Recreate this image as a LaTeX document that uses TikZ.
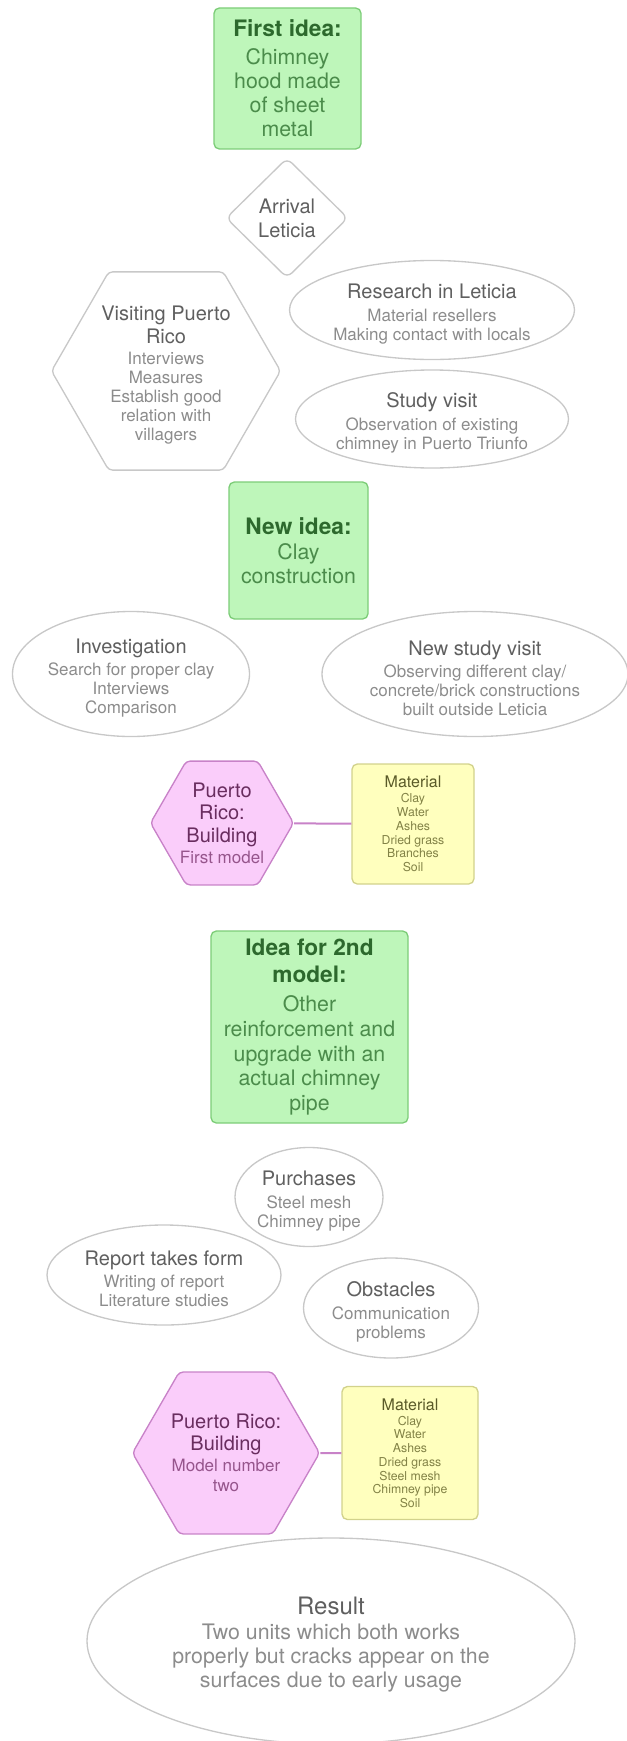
\documentclass[tikz,border=0pt]{standalone}
\usepackage{fontspec}
\setmainfont{TeX Gyre Heros}
\usetikzlibrary{shapes.geometric}

\definecolor{grayedge}{RGB}{200,200,200}
\definecolor{graydark}{RGB}{95,95,95}
\definecolor{graylight}{RGB}{140,140,140}
\definecolor{greenfill}{RGB}{190,246,186}
\definecolor{greenedge}{RGB}{125,205,120}
\definecolor{greendark}{RGB}{45,105,45}
\definecolor{greenlight}{RGB}{75,140,75}
\definecolor{pinkfill}{RGB}{250,205,250}
\definecolor{pinkedge}{RGB}{200,130,200}
\definecolor{pinkdark}{RGB}{105,45,95}
\definecolor{pinklight}{RGB}{150,85,140}
\definecolor{yellowfill}{RGB}{255,255,190}
\definecolor{yellowedge}{RGB}{210,210,140}
\definecolor{olivedark}{RGB}{90,90,40}
\definecolor{olivelight}{RGB}{130,130,70}

\newcommand{\ttlfont}{\fontsize{15}{18}\selectfont}
\newcommand{\subfont}{\fontsize{12.75}{14.2}\selectfont}
\newcommand{\ideafont}{\fontsize{16}{18.2}\selectfont}
\newcommand{\matfont}{\fontsize{9.2}{10.3}\selectfont}
\newcommand{\resfont}{\fontsize{16}{18}\selectfont}

\newcommand{\grayttl}[1]{{\ttlfont\color{graydark}#1}}
\newcommand{\pinkttl}[1]{{\ttlfont\color{pinkdark}#1}}
\newcommand{\ideattl}[1]{{\fontsize{17}{20.25}\selectfont\bfseries\color{greendark}#1}}
\newcommand{\matttl}[1]{{\fontsize{12}{14}\selectfont\color{olivedark}#1}}
\newcommand{\resttl}[1]{{\fontsize{18}{20}\selectfont\color{graydark}#1}}
\newcommand{\lift}[1]{\rule{0pt}{#1}}

\tikzset{every picture/.style={line width=0.75pt}}
\tikzset{
  grayell/.style={ellipse, draw=grayedge, line width=1pt, inner sep=0pt, align=center, text=graylight, font=\subfont},
  grayhex/.style={regular polygon, regular polygon sides=6, draw=grayedge, line width=1pt, rounded corners=3pt, inner sep=-8pt, align=center, text=graylight, font=\subfont},
  idea/.style={rectangle, draw=greenedge, fill=greenfill, line width=1pt, rounded corners=4pt, align=center, text=greenlight, font=\ideafont},
  build/.style={regular polygon, regular polygon sides=6, draw=pinkedge, fill=pinkfill, line width=1pt, rounded corners=3pt, inner sep=-8pt, align=center, text=pinklight, font=\subfont},
  matbox/.style={rectangle, draw=yellowedge, fill=yellowfill, line width=1pt, rounded corners=4pt, align=center, text=olivelight, font=\matfont},
  link/.style={draw=pinkedge, line width=1.5pt}
}

\begin{document}
\begin{tikzpicture}[x=0.75pt,y=0.75pt,yscale=-1,xscale=1]
\useasboundingbox (0,0) rectangle (626,1741);

% First idea
\node[idea, minimum width=110.25pt, minimum height=105.75pt] (first) at (287.5,78.5) {\ideattl{First idea:}\\[2.5pt] Chimney\\ hood made\\ of sheet\\ metal};
% Arrival
\node[diamond, draw=grayedge, line width=1pt, rounded corners=5pt, minimum width=91.5pt, minimum height=90pt, inner sep=0pt, align=center, font=\ttlfont] (arrival) at (287,218) {\grayttl{Arrival}\\ \grayttl{Leticia}};
% Visiting Puerto Rico
\node[grayhex, minimum size=171.75pt] (visit) at (166,371) {\lift{17pt}\grayttl{Visiting Puerto}\\[2.3pt] \grayttl{Rico}\\[1.6pt] Interviews\\ Measures\\ Establish good\\ relation with\\ villagers};
% Research
\node[grayell, minimum width=213.75pt, minimum height=74.25pt] (research) at (432,310) {\lift{17pt}\grayttl{Research in Leticia}\\[2.5pt] Material resellers\\ Making contact with locals};
% Study visit
\node[grayell, minimum width=204.75pt, minimum height=73.5pt] (study) at (432,419) {\lift{17pt}\grayttl{Study visit}\\[2.5pt] Observation of existing\\ chimney in Puerto Triunfo};

% New idea
\node[idea, minimum width=104.25pt, minimum height=102.75pt] (newidea) at (298.5,550.5) {\ideattl{New idea:}\\[0.5pt] Clay\\ construction};
% Investigation
\node[grayell, minimum width=177.75pt, minimum height=93.75pt] (invest) at (131,674) {\lift{17pt}\grayttl{Investigation}\\[2.5pt] Search for proper clay\\ Interviews\\ Comparison};
% New study visit
\node[grayell, minimum width=229.5pt, minimum height=93.75pt] (newstudy) at (475,674) {\lift{17pt}\grayttl{New study visit}\\[2.5pt] Observing different clay/\\ concrete/brick constructions\\ built outside Leticia};

% First model
\node[build, minimum size=107.25pt] (build1) at (222,823) {\pinkttl{Puerto}\\[2.9pt] \pinkttl{Rico:}\\[2.9pt] \pinkttl{Building}\\[1.1pt] First model};
\node[matbox, minimum width=91.5pt, minimum height=90pt] (mat1) at (413,824) {\matttl{Material}\\[1pt] Clay\\ Water\\ Ashes\\ Dried grass\\ Branches\\ Soil};
\draw[link] (build1) -- (mat1);

% Idea for 2nd model
\node[idea, minimum width=147.75pt, minimum height=144pt] (idea2) at (309.5,1027) {\ideattl{Idea for 2nd}\\[2.5pt] \ideattl{model:}\\[3.3pt] Other\\[0.4pt] reinforcement and\\[0.4pt] upgrade with an\\[0.4pt] actual chimney\\[0.4pt] pipe};
% Purchases
\node[grayell, minimum width=111pt, minimum height=74.25pt] (purch) at (309,1197) {\lift{17pt}\grayttl{Purchases}\\[2.5pt] Steel mesh\\ Chimney pipe};
% Report
\node[grayell, minimum width=175.5pt, minimum height=75pt] (report) at (164,1275) {\lift{17pt}\grayttl{Report takes form}\\[2.5pt] Writing of report\\ Literature studies};
% Obstacles
\node[grayell, minimum width=131.25pt, minimum height=75pt] (obst) at (391,1308) {\lift{17pt}\grayttl{Obstacles}\\[2.5pt] Communication\\ problems};

% Model number two
\node[build, minimum size=140.25pt] (build2) at (226,1453) {\pinkttl{Puerto Rico:}\\[2.5pt] \pinkttl{Building}\\[1.5pt] Model number\\[0.8pt] two};
\node[matbox, minimum width=102pt, minimum height=99.75pt] (mat2) at (410,1453) {\matttl{Material}\\[1pt] Clay\\ Water\\ Ashes\\ Dried grass\\ Steel mesh\\ Chimney pipe\\ Soil};
\draw[link] (build2) -- (mat2);

% Result
\node[grayell, minimum width=366pt, minimum height=154.5pt, font=\resfont] (result) at (331,1641) {\lift{19pt}\resttl{Result}\\[0.75pt] Two units which both works\\ properly but cracks appear on the\\ surfaces due to early usage};

\end{tikzpicture}
\end{document}
